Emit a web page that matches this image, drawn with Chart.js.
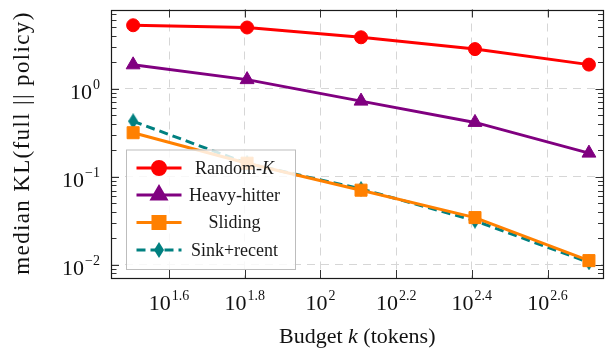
<!DOCTYPE html>
<html>
<head>
<meta charset="utf-8">
<script src="https://cdn.jsdelivr.net/npm/chart.js@4.4.1/dist/chart.umd.min.js"></script>
<style>
  html, body { margin: 0; padding: 0; background: #fff; }
  canvas { display: block; }
</style>
</head>
<body>
<canvas id="kl" width="613" height="349"></canvas>
<script>
// Budget k (tokens) on the x axis
const budgets = [32, 64, 128, 256, 512];

// median KL(full || policy) for each eviction strategy
const randomK     = [5.26, 4.96, 3.84, 2.82, 1.88];
const heavyHitter = [1.87, 1.27, 0.724, 0.415, 0.186];
const sliding     = [0.317, 0.143, 0.0706, 0.0345, 0.0112];
const sinkRecent  = [0.428, 0.142, 0.073, 0.0318, 0.0107];

// tick exponents (labels are drawn as 10^e)
const xTickExponents = [1.6, 1.8, 2, 2.2, 2.4, 2.6];
const yTickExponents = [0, -1, -2];

const SERIF = '"Liberation Serif", "Times New Roman", serif';

function thinDiamond(w, h, color) {
  const c = document.createElement('canvas');
  c.width = w; c.height = h;
  const g = c.getContext('2d');
  g.fillStyle = color;
  g.beginPath();
  g.moveTo(w / 2, 0); g.lineTo(w, h / 2); g.lineTo(w / 2, h); g.lineTo(0, h / 2);
  g.closePath();
  g.fill();
  return c;
}
const diamondImg = thinDiamond(10, 16, '#008080');

const pts = (ys) => budgets.map((b, i) => ({ x: b, y: ys[i] }));

const series = [
  { label: 'Random-K', italicTail: 'K', data: pts(randomK), color: '#ff0000', pointStyle: 'circle', pointRadius: 6.5, dash: [] },
  { label: 'Heavy-hitter', data: pts(heavyHitter), color: '#800080', pointStyle: 'triangle', pointRadius: 8, dash: [] },
  { label: 'Sliding', data: pts(sliding), color: '#ff8000', pointStyle: 'rect', pointRadius: 8.5, dash: [] },
  { label: 'Sink+recent', data: pts(sinkRecent), color: '#008080', pointStyle: diamondImg, pointRadius: 8, dash: [9, 5] }
];

function fmtExp(e) {
  const s = String(Math.abs(e));
  return (e < 0 ? '\u2212' : '') + s;
}

function drawPow(ctx, x, baseline, exp, align) {
  ctx.font = '22px ' + SERIF;
  const wBase = ctx.measureText('10').width;
  ctx.font = '14px ' + SERIF;
  const sup = fmtExp(exp);
  const wSup = ctx.measureText(sup).width + 1;
  const total = wBase + wSup;
  let x0 = align === 'right' ? x - total : x - total / 2;
  ctx.textAlign = 'left';
  ctx.textBaseline = 'alphabetic';
  ctx.font = '22px ' + SERIF;
  ctx.fillText('10', x0, baseline);
  ctx.font = '14px ' + SERIF;
  ctx.fillText(sup, x0 + wBase + 1, baseline - 10);
}

function fillSpaced(ctx, text, x, y, target) {
  const w = ctx.measureText(text).width;
  const sp = Math.max(0, (target - w) / (text.length - 1));
  ctx.letterSpacing = sp.toFixed(2) + 'px';
  ctx.fillText(text, x, y);
  ctx.letterSpacing = '0px';
}

const decorations = {
  id: 'decorations',
  afterDatasetsDraw(chart) {
    // legend box, lower left of the plot area
    const ctx = chart.ctx;
    ctx.save();
    const bx = 126, by = 149.5, bw = 169, bh = 119.5;
    ctx.fillStyle = 'rgba(255,255,255,0.82)';
    ctx.fillRect(bx, by, bw, bh);
    ctx.strokeStyle = '#bdbdbd';
    ctx.lineWidth = 1;
    ctx.strokeRect(bx + 0.5, by + 0.5, bw, bh);
    const rows = [168, 195, 222.5, 250];
    series.forEach((s, i) => {
      const y = rows[i];
      ctx.strokeStyle = s.color;
      ctx.lineWidth = 3;
      ctx.setLineDash(s.dash);
      ctx.beginPath();
      ctx.moveTo(136.5, y); ctx.lineTo(181.5, y);
      ctx.stroke();
      ctx.setLineDash([]);
      ctx.fillStyle = s.color;
      ctx.strokeStyle = s.color;
      Chart.helpers.drawPoint(ctx, { pointStyle: s.pointStyle, radius: s.pointRadius, rotation: 0, borderWidth: 1 }, 159, y);
      ctx.fillStyle = '#1a1a1a';
      ctx.textBaseline = 'middle';
      ctx.font = '18px ' + SERIF;
      if (s.italicTail) {
        const head = s.label.slice(0, -s.italicTail.length);
        const wHead = ctx.measureText(head).width;
        ctx.font = 'italic 18px ' + SERIF;
        const wTail = ctx.measureText(s.italicTail).width;
        const x0 = 234.5 - (wHead + wTail) / 2;
        ctx.textAlign = 'left';
        ctx.font = '18px ' + SERIF;
        ctx.fillText(head, x0, y + 1);
        ctx.font = 'italic 18px ' + SERIF;
        ctx.fillText(s.italicTail, x0 + wHead, y + 1);
      } else {
        ctx.textAlign = 'center';
        ctx.fillText(s.label, 234.5, y + 1);
      }
    });
    ctx.restore();
  },
  afterDraw(chart) {
    const ctx = chart.ctx;
    const a = chart.chartArea;
    const xs = chart.scales.x, ys = chart.scales.y;
    ctx.save();
    ctx.strokeStyle = '#333';
    ctx.lineWidth = 1;
    // y ticks, major and minor, on both sides
    const yMin = ys.min, yMax = ys.max;
    for (let e = -3; e <= 1; e++) {
      for (let m = 1; m <= 9; m++) {
        const v = m * Math.pow(10, e);
        if (v < yMin || v > yMax) continue;
        const py = Math.round(ys.getPixelForValue(v)) + 0.5;
        const len = m === 1 ? 8 : 5.5;
        ctx.beginPath();
        ctx.moveTo(a.left, py); ctx.lineTo(a.left + len, py);
        ctx.moveTo(a.right, py); ctx.lineTo(a.right - len, py);
        ctx.stroke();
      }
    }
    // x ticks top and bottom
    xTickExponents.forEach(e => {
      const px = Math.round(xs.getPixelForValue(Math.pow(10, e))) + 0.5;
      ctx.beginPath();
      ctx.moveTo(px, a.bottom); ctx.lineTo(px, a.bottom - 8);
      ctx.moveTo(px, a.top); ctx.lineTo(px, a.top + 8);
      ctx.stroke();
    });
    // frame
    ctx.strokeStyle = '#1a1a1a';
    ctx.lineWidth = 1.2;
    ctx.strokeRect(Math.round(a.left) + 0.5, Math.round(a.top) + 0.5,
                   Math.round(a.right - a.left) - 1, Math.round(a.bottom - a.top) - 1);
    // tick labels
    ctx.fillStyle = '#111';
    xTickExponents.forEach(e => {
      drawPow(ctx, xs.getPixelForValue(Math.pow(10, e)), a.bottom + 32, e, 'center');
    });
    yTickExponents.forEach(e => {
      drawPow(ctx, 100, ys.getPixelForValue(Math.pow(10, e)) + 10, e, 'right');
    });
    // axis titles
    ctx.textBaseline = 'alphabetic';
    ctx.textAlign = 'left';
    ctx.font = '22px ' + SERIF;
    const t1 = 'Budget ', t2 = 'k', t3 = ' (tokens)';
    const w1 = ctx.measureText(t1).width;
    ctx.font = 'italic 22px ' + SERIF;
    const w2 = ctx.measureText(t2).width;
    ctx.font = '22px ' + SERIF;
    const w3 = ctx.measureText(t3).width;
    let x0 = (a.left + a.right) / 2 - (w1 + w2 + w3) / 2;
    ctx.fillText(t1, x0, 343);
    ctx.font = 'italic 22px ' + SERIF;
    ctx.fillText(t2, x0 + w1, 343);
    ctx.font = '22px ' + SERIF;
    ctx.fillText(t3, x0 + w1 + w2, 343);

    ctx.translate(23, 143);
    ctx.rotate(-Math.PI / 2);
    ctx.textAlign = 'center';
    ctx.textBaseline = 'middle';
    ctx.font = '23px ' + SERIF;
    fillSpaced(ctx, 'median KL(full || policy)', 0, 0, 262);
    ctx.restore();
  }
};

new Chart(document.getElementById('kl'), {
  type: 'line',
  data: {
    datasets: series.map(s => ({
      label: s.label,
      data: s.data,
      borderColor: s.color,
      backgroundColor: s.color,
      borderWidth: 3,
      borderDash: s.dash,
      pointStyle: s.pointStyle,
      pointRadius: s.pointRadius,
      pointBorderWidth: 1,
      pointBorderColor: s.color,
      pointBackgroundColor: s.color,
      tension: 0,
      fill: false
    }))
  },
  options: {
    responsive: false,
    animation: false,
    devicePixelRatio: 1,
    layout: { padding: { top: 5, right: 1, left: 0, bottom: 0 } },
    plugins: { legend: { display: false }, tooltip: { enabled: false } },
    scales: {
      x: {
        type: 'logarithmic',
        min: 27.97,
        max: 559.4,
        afterBuildTicks: (s) => { s.ticks = xTickExponents.map(e => ({ value: Math.pow(10, e) })); },
        afterFit: (s) => { s.height = 71; },
        ticks: { display: false },
        grid: { color: '#d6d6d6', lineWidth: 1, drawTicks: false },
        border: { display: false, dash: [8, 6] }
      },
      y: {
        type: 'logarithmic',
        min: 0.00711,
        max: 7.94,
        afterBuildTicks: (s) => { s.ticks = yTickExponents.map(e => ({ value: Math.pow(10, e) })); },
        afterFit: (s) => { s.width = 111; },
        ticks: { display: false },
        grid: { color: '#d6d6d6', lineWidth: 1, drawTicks: false },
        border: { display: false, dash: [8, 6] }
      }
    }
  },
  plugins: [decorations]
});
</script>
</body>
</html>
